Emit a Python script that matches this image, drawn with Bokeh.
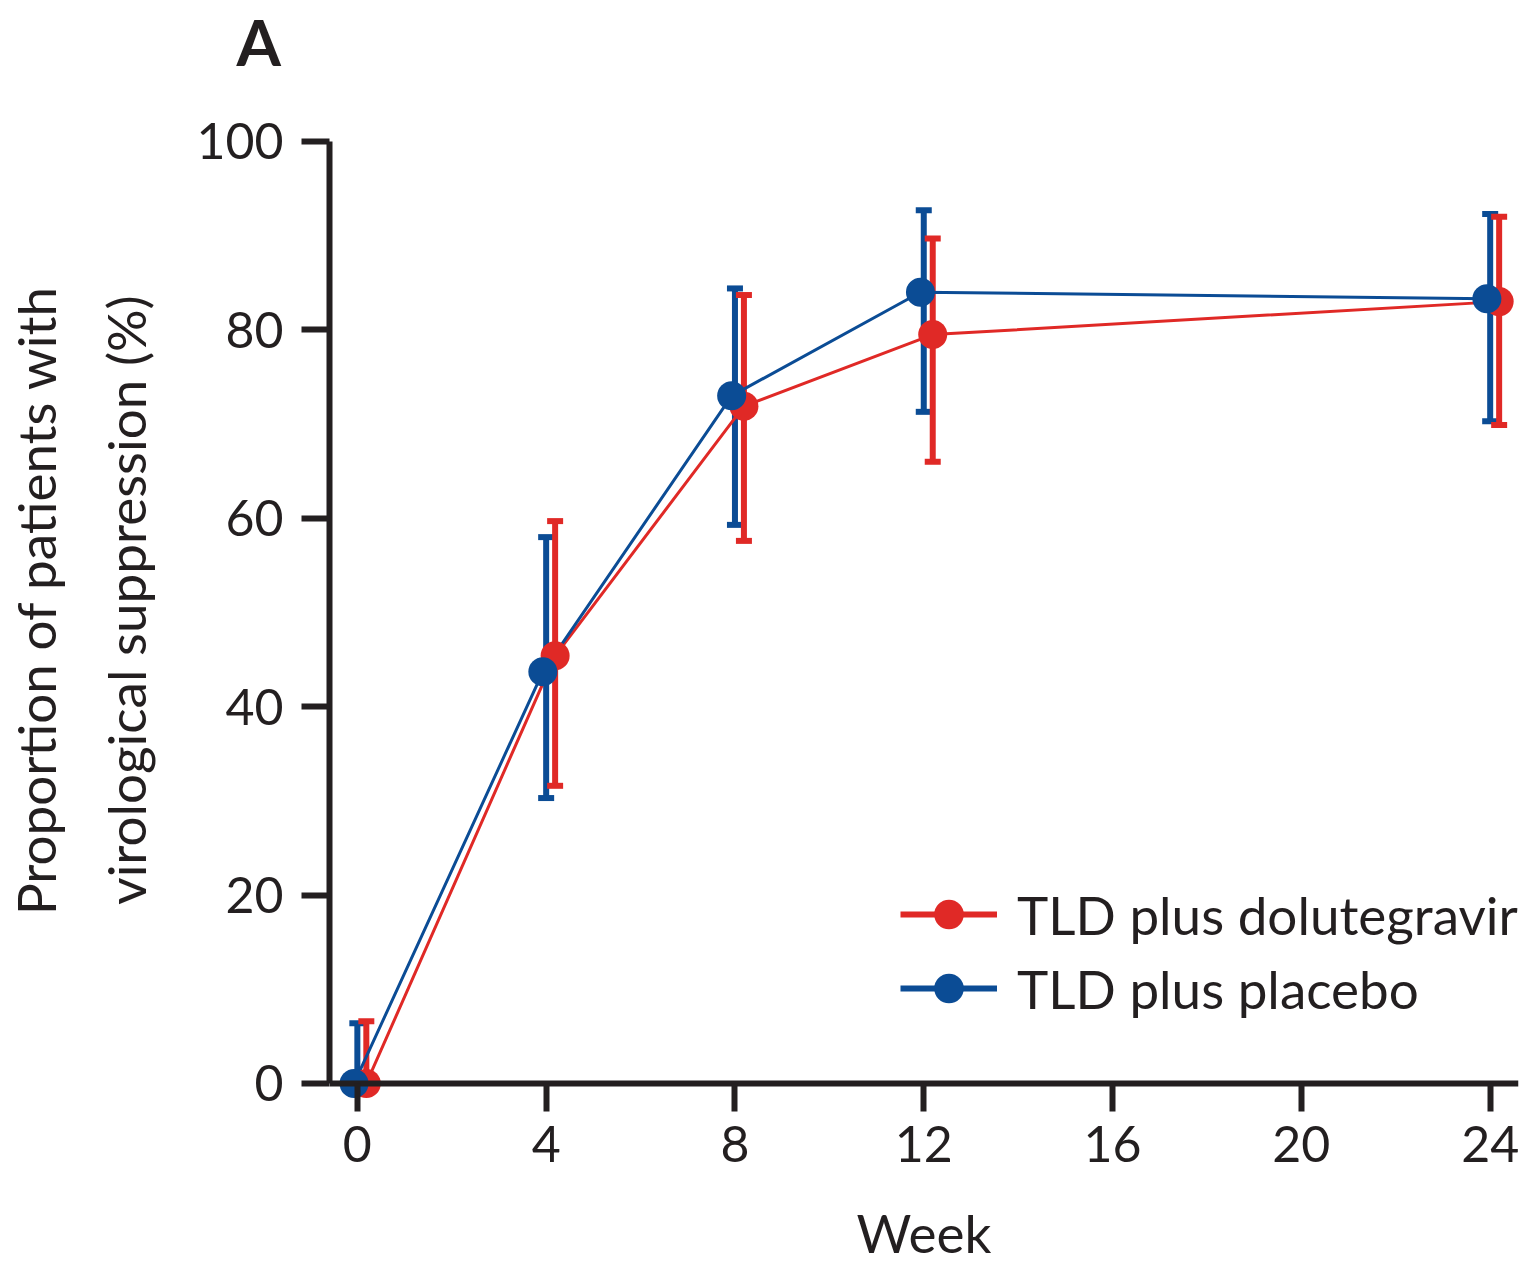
from bokeh.plotting import figure
from bokeh.models import (Range1d, FixedTicker, Whisker, ColumnDataSource, Legend,
                          LegendItem, TeeHead, LinearAxis, Title)
from bokeh.embed import file_html
from bokeh.resources import INLINE

# ---- data ----
weeks = [0, 4, 8, 12, 24]
dtg_pct = [0, 45.4, 71.9, 79.5, 83.0]
dtg_lo = [0, 31.6, 57.6, 66.0, 69.9]
dtg_hi = [6.6, 59.7, 83.7, 89.7, 92.0]
pbo_pct = [0, 43.7, 73.0, 84.0, 83.3]
pbo_lo = [0, 30.3, 59.3, 71.3, 70.3]
pbo_hi = [6.4, 58.0, 84.4, 92.7, 92.3]
x_ticks = [0, 4, 8, 12, 16, 20, 24]
y_ticks = [0, 20, 40, 60, 80, 100]
series_names = ["TLD plus dolutegravir", "TLD plus placebo"]

# ---- style ----
RED = "#E02926"
BLUE = "#0B4C95"
INK = "#231F20"
FONT = "Lato"
RED_SHIFT = 0.19     # horizontal dodge of the red series (weeks)
BLUE_MK_SHIFT = -0.07

p = figure(width=1531, height=1266, output_backend="svg", toolbar_location=None,
           title=None,
           x_range=Range1d(-0.59, 24.6), y_range=Range1d(-3.93, 106.58),
           min_border_left=329, min_border_right=13,
           min_border_top=79, min_border_bottom=146)
p.outline_line_color = None
p.grid.visible = False
p.background_fill_color = "white"
p.border_fill_color = "white"


def style_axis(ax):
    ax.axis_line_color = INK
    ax.axis_line_width = 6
    ax.major_tick_line_color = INK
    ax.major_tick_line_width = 6
    ax.major_tick_out = 28
    ax.major_tick_in = 0
    ax.minor_tick_line_color = None
    ax.major_label_text_font = FONT
    ax.major_label_text_font_size = "50px"
    ax.major_label_text_color = INK
    ax.axis_label_text_font = FONT
    ax.axis_label_text_font_size = "53px"
    ax.axis_label_text_font_style = "normal"
    ax.axis_label_text_color = INK


# x axis line + ticks drawn at y = 0
xa = p.xaxis[0]
style_axis(xa)
xa.fixed_location = 0
xa.ticker = FixedTicker(ticks=x_ticks)
xa.major_label_text_alpha = 0
xa.axis_label = None

# x tick labels and title in the bottom panel
xl = LinearAxis(ticker=FixedTicker(ticks=x_ticks))
style_axis(xl)
xl.axis_line_color = None
xl.major_tick_line_color = None
xl.major_tick_out = 0
xl.major_label_standoff = 5
xl.axis_label = "Week"
xl.axis_label_standoff = 36
p.add_layout(xl, "below")

ya = p.yaxis[0]
style_axis(ya)
ya.bounds = (0, 100)
ya.ticker = FixedTicker(ticks=y_ticks)
ya.major_label_standoff = 18
ya.axis_label = "Proportion of patients with\nvirological suppression (%)"
ya.axis_label_standoff = 36
ya.axis_label_text_line_height = 1.43

# ---- series ----
red_x = [w + RED_SHIFT for w in weeks]
blue_mx = [w + BLUE_MK_SHIFT for w in weeks]

r_line = p.line(red_x, dtg_pct, line_color=RED, line_width=3)
b_line = p.line(blue_mx, pbo_pct, line_color=BLUE, line_width=3)
r_dot = p.scatter(red_x, dtg_pct, marker="circle", size=29, fill_color=RED, line_color=RED, line_width=0)
b_dot = p.scatter(blue_mx, pbo_pct, marker="circle", size=29, fill_color=BLUE, line_color=BLUE, line_width=0)

# thicker lines used only for the legend key
r_key = p.line(red_x, dtg_pct, line_color=RED, line_width=6, visible=False)
b_key = p.line(blue_mx, pbo_pct, line_color=BLUE, line_width=6, visible=False)

src_blue = ColumnDataSource(dict(x=list(weeks), lo=pbo_lo, hi=pbo_hi))
src_red = ColumnDataSource(dict(x=red_x, lo=dtg_lo, hi=dtg_hi))
for src, col in ((src_blue, BLUE), (src_red, RED)):
    w = Whisker(source=src, base="x", lower="lo", upper="hi",
                line_color=col, line_width=6,
                upper_head=TeeHead(size=16, line_color=col, line_width=6),
                lower_head=TeeHead(size=16, line_color=col, line_width=6))
    p.add_layout(w)

legend = Legend(items=[LegendItem(label=series_names[0], renderers=[r_key, r_dot]),
                       LegendItem(label=series_names[1], renderers=[b_key, b_dot])],
                location=(571, 95), glyph_width=97, glyph_height=74,
                label_standoff=20, spacing=0, padding=0, margin=0,
                border_line_color=None, background_fill_alpha=0,
                inactive_fill_alpha=0,
                label_text_font=FONT, label_text_font_size="53px",
                label_text_color=INK)
p.add_layout(legend)

# ---- panel letter ----
p.add_layout(Title(text="A", align="left", offset=-93, standoff=0,
                   vertical_align="bottom",
                   text_font=FONT, text_font_size="64px", text_font_style="bold",
                   text_color=INK), "above")

open("out.html", "w").write(file_html(p, INLINE))
